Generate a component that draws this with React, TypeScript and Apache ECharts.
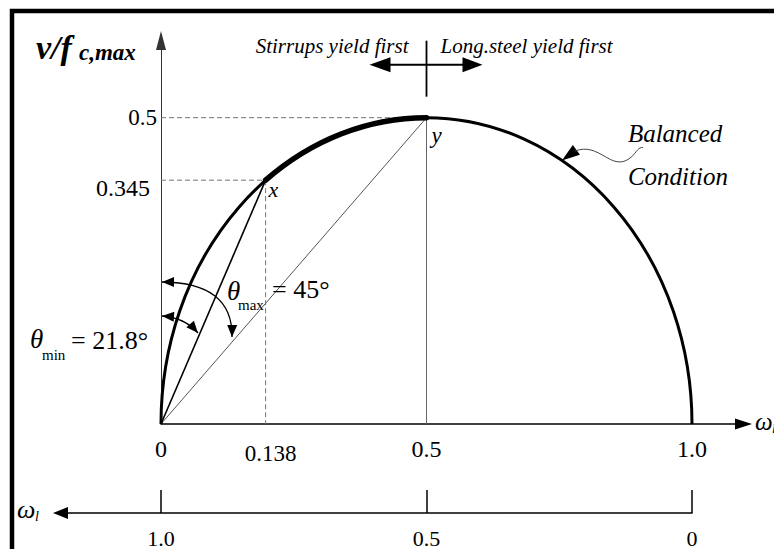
import React, { useEffect, useRef } from "react";
import * as echarts from "echarts";

// ---- data (values as drawn / labelled in the schematic) ----
const omegaTicks = [0, 0.5, 1.0];
const omegaTickLabels = ["0", "0.5", "1.0"];
const omegaLTicks = [0, 0.5, 1.0];
const omegaLTickLabels = ["0", "0.5", "1.0"];
const vTicks = [0.5];
const vTickLabels = ["0.5"];
const curveStart = [0, 0];
const curveEnd = [1.0, 0];
const pointY = [0.5, 0.5];
const pointX = [0.197, 0.398]; // where point x sits in the (not-to-scale) drawing
const pointXTickLabels = ["0.138", "0.345"];
const thetaValues = ["21.8°", "45°"];
const regionLabels = ["Stirrups yield first", "Long.steel yield first"];
const curveNameLines = ["Balanced", "Condition"];
const curveNameAnchor = [0.755, 0.43];

const FAMILY = "Liberation Serif";
const INK = "#000";
const GUIDE = "#777";

function labelOf(values: number[], labels: string[]) {
  return (v: number) => {
    const i = values.findIndex((t) => Math.abs(t - v) < 1e-6);
    return i >= 0 ? labels[i] : "";
  };
}

function head(tip: number[], dir: number[], L: number, W: number) {
  const n = Math.hypot(dir[0], dir[1]);
  const dx = dir[0] / n, dy = dir[1] / n;
  const bx = tip[0] - dx * L, by = tip[1] - dy * L;
  return {
    type: "polygon",
    shape: { points: [[tip[0], tip[1]], [bx - dy * W, by + dx * W], [bx + dy * W, by - dx * W]] },
    style: { fill: "#000", stroke: "none" },
  };
}

const renderItem = (_params: any, api: any) => {
  const O = api.coord(curveStart);
  const E = api.coord(curveEnd);
  const P = api.coord(pointY);
  const X = api.coord(pointX);
  const T = api.coord(curveNameAnchor);
  const rx = (E[0] - O[0]) / 2;
  const ry = O[1] - P[1];
  const o = (dx: number, dy: number) => [O[0] + dx, O[1] + dy];
  const ch: any[] = [];
  const ln = (x1: number, y1: number, x2: number, y2: number, stroke: string, lw: number, dash?: number[]) => ({
    type: "line",
    shape: { x1, y1, x2, y2 },
    style: dash ? { stroke, lineWidth: lw, lineDash: dash } : { stroke, lineWidth: lw },
  });
  const bez = (p0: number[], cp: number[], p2: number[]) => ({
    type: "bezierCurve",
    shape: { x1: p0[0], y1: p0[1], cpx1: cp[0], cpy1: cp[1], x2: p2[0], y2: p2[1] },
    style: { stroke: "#000", lineWidth: 1.3, fill: "none" },
  });

  // guides
  ch.push(ln(O[0], P[1], P[0], P[1], GUIDE, 1, [5, 3]));
  ch.push(ln(O[0], X[1], X[0], X[1], GUIDE, 1, [5, 3]));
  ch.push(ln(X[0], X[1], X[0], O[1], GUIDE, 1, [5, 3]));
  ch.push(ln(P[0], P[1], P[0], O[1], "#666", 1));
  // rays from origin
  ch.push(ln(O[0], O[1], P[0], P[1], "#555", 1));
  ch.push(ln(O[0], O[1], X[0], X[1], "#000", 1.6));
  // balanced-condition curve (semicircle in data space)
  ch.push({
    type: "path",
    shape: { pathData: `M ${O[0]} ${O[1]} A ${rx} ${ry} 0 0 1 ${E[0]} ${E[1]}` },
    style: { stroke: "#000", lineWidth: 3, fill: "none" },
  });
  ch.push({
    type: "path",
    shape: { pathData: `M ${X[0]} ${X[1]} A ${rx} ${ry} 0 0 1 ${P[0]} ${P[1]}` },
    style: { stroke: "#000", lineWidth: 5.5, fill: "none", lineCap: "round" },
  });

  // angle arcs
  const a0 = o(1, -142), ac = o(72, -141.5), a2 = o(71, -87);
  ch.push(bez(a0, ac, a2));
  ch.push(head(a0, [a0[0] - ac[0], a0[1] - ac[1]], 12, 5));
  ch.push(head(a2, [a2[0] - ac[0], a2[1] - ac[1]], 12, 5));
  const b0 = o(1, -108), bc = o(23.5, -106.5), b2 = o(37, -91);
  ch.push(bez(b0, bc, b2));
  ch.push(head(b0, [b0[0] - bc[0], b0[1] - bc[1]], 12, 5));
  ch.push(head(b2, [b2[0] - bc[0], b2[1] - bc[1]], 12, 5));

  // top region annotation
  ch.push(ln(P[0], P[1] - 77, P[0], P[1] - 21, "#000", 1.8));
  const ay = P[1] - 53;
  ch.push(ln(P[0] - 50, ay, P[0] + 48, ay, "#000", 2));
  ch.push(head([P[0] - 57, ay], [-1, 0], 21, 7.5));
  ch.push(head([P[0] + 56, ay], [1, 0], 20, 7.5));

  // balanced-condition callout
  ch.push(head(T, [-14.5, 10.7], 18, 6));
  ch.push({
    type: "path",
    shape: {
      pathData: `M ${T[0] + 13} ${T[1] - 9.5} C ${T[0] + 25} ${T[1] - 14} ${T[0] + 33} ${T[1] - 10} ${T[0] + 45} ${T[1] - 3} C ${T[0] + 55} ${T[1] + 3} ${T[0] + 62} ${T[1] + 3} ${T[0] + 70} ${T[1] - 4} C ${T[0] + 74} ${T[1] - 8} ${T[0] + 77} ${T[1] - 14} ${T[0] + 81} ${T[1] - 13}`,
    },
    style: { stroke: "#444", lineWidth: 1, fill: "none" },
  });

  return { type: "group", children: ch };
};

// text annotations: attached to data anchors, offset in pixels
type Ann = { at: number[]; dx: number; dy: number; text: string; size: number; italic?: boolean; bold?: boolean; align?: string };
const annotations: Ann[] = [
  { at: curveStart, dx: -131, dy: -85, text: "θ", size: 27, italic: true },
  { at: curveStart, dx: -119, dy: -69, text: "min", size: 15 },
  { at: curveStart, dx: -90, dy: -83, text: "= " + thetaValues[0], size: 26 },
  { at: curveStart, dx: 66, dy: -133, text: "θ", size: 27, italic: true },
  { at: curveStart, dx: 77, dy: -119, text: "max", size: 15 },
  { at: curveStart, dx: 111, dy: -134, text: "= " + thetaValues[1], size: 26 },
  { at: pointX, dx: 3, dy: 9, text: "x", size: 22, italic: true },
  { at: pointY, dx: 5, dy: 18, text: "y", size: 23, italic: true },
  { at: [0, pointX[1]], dx: -11, dy: 8, text: pointXTickLabels[1], size: 24, align: "right" },
  { at: [pointX[0], 0], dx: 5, dy: 30, text: pointXTickLabels[0], size: 23, align: "center" },
  { at: pointY, dx: -18, dy: -72, text: regionLabels[0], size: 21, italic: true, align: "right" },
  { at: pointY, dx: 14, dy: -72, text: regionLabels[1], size: 21, italic: true },
  { at: curveNameAnchor, dx: 66, dy: -27, text: curveNameLines[0], size: 25, italic: true },
  { at: curveNameAnchor, dx: 66, dy: 16, text: curveNameLines[1], size: 25, italic: true },
  { at: curveStart, dx: -125, dy: -376, text: "ν/f", size: 34, italic: true, bold: true },
  { at: curveStart, dx: -82, dy: -371, text: "c,max", size: 23, italic: true, bold: true },
  { at: curveEnd, dx: 63, dy: -2, text: "ω", size: 25, italic: true },
  { at: curveEnd, dx: 80, dy: 5, text: "l", size: 13, italic: true },
  { at: curveStart, dx: -144, dy: 85.5, text: "ω", size: 26, italic: true },
  { at: curveStart, dx: -126, dy: 93, text: "l", size: 14, italic: true },
];

const annotationData = annotations.map((a) => ({
  value: a.at,
  label: {
    show: true,
    position: [a.dx, a.dy],
    formatter: a.text,
    fontFamily: FAMILY,
    fontSize: a.size,
    fontStyle: a.italic ? "italic" : "normal",
    fontWeight: a.bold ? "bold" : "normal",
    color: INK,
    opacity: 1,
    textBorderWidth: 0,
    align: a.align || "left",
    verticalAlign: "middle",
  },
}));

const labelFont = { fontFamily: FAMILY, color: INK };

const option: any = {
  animation: false,
  backgroundColor: "#fff",
  textStyle: { fontFamily: FAMILY },
  grid: [
    { left: 161, right: 30.5, top: 40.5, bottom: 125, outerBoundsMode: "none", containLabel: false },
    { left: 60.5, right: 82, top: 490, bottom: 36, outerBoundsMode: "none", containLabel: false },
  ],
  xAxis: [
    {
      type: "value",
      gridIndex: 0,
      min: 0,
      max: 1.097,
      axisLine: { show: true, lineStyle: { color: "#000", width: 1.5 }, symbol: ["none", "triangle"], symbolSize: [11, 17] },
      axisTick: { show: false },
      splitLine: { show: false },
      axisLabel: {
        ...labelFont,
        fontSize: 24,
        lineHeight: 20,
        margin: 15,
        customValues: omegaTicks,
        formatter: labelOf(omegaTicks, omegaTickLabels),
      },
    },
    {
      type: "value",
      gridIndex: 1,
      min: 0,
      max: 1.1893,
      inverse: true,
      position: "bottom",
      axisLine: { show: true, lineStyle: { color: "#000", width: 1.5 }, symbol: ["triangle", "none"], symbolSize: [12, 15] },
      axisTick: { show: true, inside: true, length: 23, customValues: omegaLTicks, lineStyle: { color: "#000", width: 1.5 } },
      splitLine: { show: false },
      axisLabel: {
        ...labelFont,
        fontSize: 22,
        lineHeight: 16,
        margin: 17,
        customValues: omegaLTicks,
        formatter: labelOf(omegaLTicks, omegaLTickLabels),
      },
    },
  ],
  yAxis: [
    {
      type: "value",
      gridIndex: 0,
      min: 0,
      max: 0.626,
      axisLine: { show: true, lineStyle: { color: "#333", width: 1 }, symbol: ["none", "triangle"], symbolSize: [10, 19] },
      axisTick: { show: false },
      splitLine: { show: false },
      axisLabel: {
        ...labelFont,
        fontSize: 23,
        margin: 4,
        customValues: vTicks,
        formatter: labelOf(vTicks, vTickLabels),
      },
    },
    { type: "value", gridIndex: 1, show: false, min: 0, max: 1 },
  ],
  series: [
    {
      type: "custom",
      coordinateSystem: "cartesian2d",
      xAxisIndex: 0,
      yAxisIndex: 0,
      clip: false,
      silent: true,
      data: [[0, 0]],
      renderItem,
    },
    {
      type: "scatter",
      xAxisIndex: 0,
      yAxisIndex: 0,
      clip: false,
      silent: true,
      symbol: "circle",
      symbolSize: 0.01,
      itemStyle: { color: "rgba(0,0,0,0)", opacity: 1 },
      z: 5,
      data: annotationData,
    },
  ],
  graphic: [
    {
      type: "rect",
      shape: { x: 12, y: 11, width: 900, height: 700 },
      style: { fill: "none", stroke: "#000", lineWidth: 4.5 },
      z: 100,
      silent: true,
    },
  ],
};

export default function App() {
  const ref = useRef<HTMLDivElement>(null);
  useEffect(() => {
    document.body.style.margin = "0";
    const chart = echarts.init(ref.current!, null, { renderer: "svg" });
    chart.setOption(option);
    return () => chart.dispose();
  }, []);
  return <div ref={ref} style={{ width: 774, height: 549 }} />;
}
